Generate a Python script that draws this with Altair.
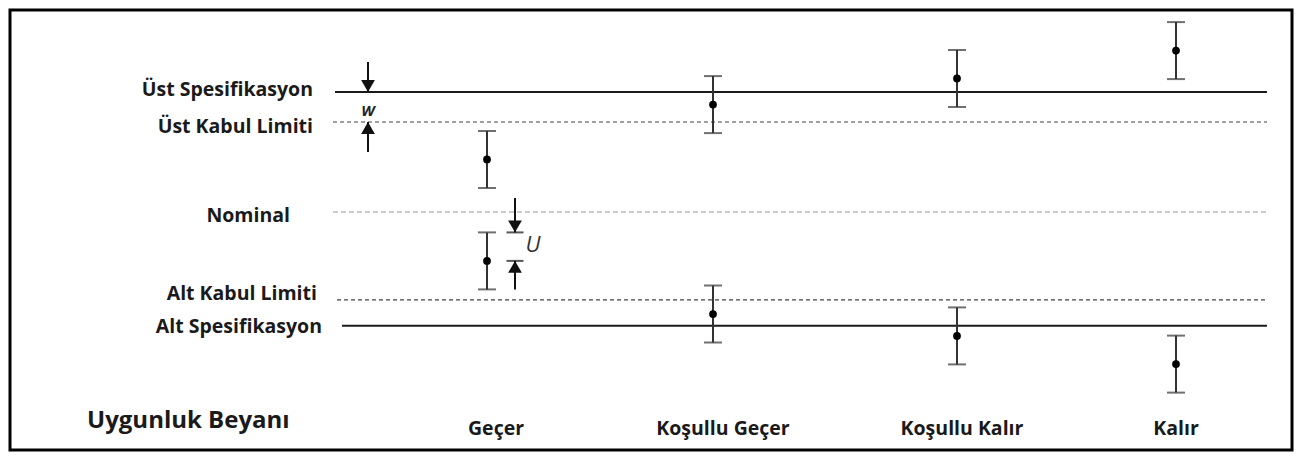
import altair as alt
import pandas as pd

# ---- data ----
categories = ["Geçer", "Koşullu Geçer", "Koşullu Kalır", "Kalır"]
category_pos = [4.77, 7.03, 9.47, 11.66]
category_label_pos = [4.86, 7.13, 9.52, 11.66]
upper_results = [1.75, 3.58, 4.45, 5.38]
lower_results = [-1.63, -3.40, -4.13, -5.07]
U = 0.95

limit_names = ["Üst Spesifikasyon", "Üst Kabul Limiti", "Nominal",
               "Alt Kabul Limiti", "Alt Spesifikasyon"]
limit_values = [4.0, 3.0, 0.0, -2.93, -3.79]
limit_kind = ["spec", "accept", "nominal", "accept", "spec"]
limit_start = [3.25, 3.23, 3.23, 3.27, 3.32]
limit_end = 12.57
label_right = [3.03, 3.03, 2.80, 3.07, 3.12]
label_y = [4.07, 2.82, -0.12, -2.72, -3.82]

title_text = "Uygunluk Beyanı"
W_pos = 3.58
U_pos = 5.05

FONT = "Open Sans"
X_DOM = [0, 12.82]
Y_DOM = [-7.933, 6.733]

xs = alt.Scale(domain=X_DOM, nice=False, zero=False)
ys = alt.Scale(domain=Y_DOM, nice=False, zero=False)


def X(field, **kw):
    return alt.X(field, type="quantitative", scale=xs, axis=None, **kw)


def Y(field, **kw):
    return alt.Y(field, type="quantitative", scale=ys, axis=None, **kw)


limits = pd.DataFrame({
    "name": limit_names, "value": limit_values, "kind": limit_kind,
    "start": limit_start, "end": [limit_end] * 5,
    "lx": label_right, "ly": label_y,
})

rows = []
for c, p, u, l in zip(categories, category_pos, upper_results, lower_results):
    for v in (u, l):
        rows.append({"cat": c, "x": p, "y": v, "lo": v - U, "hi": v + U})
res = pd.DataFrame(rows)
caps = pd.concat([
    res.assign(cy=res["lo"]), res.assign(cy=res["hi"])
], ignore_index=True)

cats = pd.DataFrame({"cat": categories, "x": category_label_pos, "y": [-7.22] * 4})

base_lim = alt.Chart(limits)
spec_lines = base_lim.transform_filter(alt.datum.kind == "spec").mark_rule(
    color="#1a1a1a", strokeWidth=2).encode(x=X("start"), x2="end", y=Y("value"))
acc_lines = base_lim.transform_filter(alt.datum.kind == "accept").mark_rule(
    color="#444", strokeWidth=1.2, strokeDash=[4, 3]).encode(x=X("start"), x2="end", y=Y("value"))
nom_lines = base_lim.transform_filter(alt.datum.kind == "nominal").mark_rule(
    color="#999", strokeWidth=1, strokeDash=[5, 3]).encode(x=X("start"), x2="end", y=Y("value"))
lim_labels = base_lim.mark_text(
    align="right", baseline="middle", font=FONT, fontSize=19.5, fontWeight="bold", color="#1a1a1a"
).encode(x=X("lx"), y=Y("ly"), text="name:N")

base_res = alt.Chart(res)
stems = base_res.mark_rule(color="#333", strokeWidth=2).encode(x=X("x"), y=Y("lo"), y2="hi")
cap_ticks = alt.Chart(caps).mark_tick(
    orient="horizontal", color="#333", size=18, thickness=2).encode(x=X("x"), y=Y("cy"))
dots = base_res.mark_circle(color="#000", size=60, opacity=1).encode(x=X("x"), y=Y("y"))

cat_labels = alt.Chart(cats).mark_text(
    align="center", baseline="middle", font=FONT, fontSize=19.5, fontWeight="bold", color="#1a1a1a"
).encode(x=X("x"), y=Y("y"), text="cat:N")

title_df = pd.DataFrame({"t": [title_text], "x": [0.77], "y": [-6.97]})
title_mark = alt.Chart(title_df).mark_text(
    align="left", baseline="middle", font=FONT, fontSize=24, fontWeight="bold", color="#1a1a1a"
).encode(x=X("x"), y=Y("y"), text="t:N")

# W annotation (between spec and acceptance limits)
usl, ual = limit_values[0], limit_values[1]
w_shafts = pd.DataFrame({"x": [W_pos, W_pos], "a": [usl + 1.0, ual - 1.0], "b": [usl, ual]})
w_heads = pd.DataFrame({"x": [W_pos, W_pos], "y": [usl + 0.2, ual - 0.2],
                        "shape": ["triangle-down", "triangle-up"]})
w_text = pd.DataFrame({"x": [W_pos], "y": [(usl + ual) / 2 - 0.12], "t": ["W"]})

# U annotation (uncertainty of the lower "Geçer" result)
g_low = lower_results[0]
u_top, u_bot = g_low + U, g_low
u_shafts = pd.DataFrame({"x": [U_pos, U_pos], "a": [u_top + 1.15, u_bot - 0.95], "b": [u_top, u_bot]})
u_heads = pd.DataFrame({"x": [U_pos, U_pos], "y": [u_top + 0.2, u_bot - 0.2],
                        "shape": ["triangle-down", "triangle-up"]})
u_caps = pd.DataFrame({"x": [U_pos, U_pos], "y": [u_top, u_bot]})
u_text = pd.DataFrame({"x": [U_pos + 0.18], "y": [(u_top + u_bot) / 2 + 0.05], "t": ["U"]})

shaft_df = pd.concat([w_shafts, u_shafts], ignore_index=True)
head_df = pd.concat([w_heads, u_heads], ignore_index=True)

shafts = alt.Chart(shaft_df).mark_rule(color="#111", strokeWidth=2).encode(
    x=X("x"), y=Y("a"), y2="b")
heads = alt.Chart(head_df).mark_point(filled=True, color="#111", size=190, opacity=1).encode(
    x=X("x"), y=Y("y"),
    shape=alt.Shape("shape:N", scale=None, legend=None))
ucap_marks = alt.Chart(u_caps).mark_tick(
    orient="horizontal", color="#111", size=17, thickness=2).encode(x=X("x"), y=Y("y"))
w_label = alt.Chart(w_text).mark_text(
    font=FONT, fontSize=15, fontStyle="italic", fontWeight="bold", color="#222", baseline="middle"
).encode(x=X("x"), y=Y("y"), text="t:N")
u_label = alt.Chart(u_text).mark_text(
    font=FONT, fontSize=22, fontStyle="italic", color="#333", baseline="middle"
).encode(x=X("x"), y=Y("y"), text="t:N")

chart = alt.layer(
    nom_lines, acc_lines, spec_lines, lim_labels,
    stems, cap_ticks, dots, cat_labels, title_mark,
    shafts, heads, ucap_marks, w_label, u_label,
).properties(
    width=1282, height=440,
    autosize=alt.AutoSizeParams(type="none"),
    padding={"left": 2, "top": 2, "right": 2, "bottom": 2},
    background="white",
).configure_view(stroke="#000", strokeWidth=3)

chart.save("out.html", embed_options={"renderer": "svg", "actions": False})
